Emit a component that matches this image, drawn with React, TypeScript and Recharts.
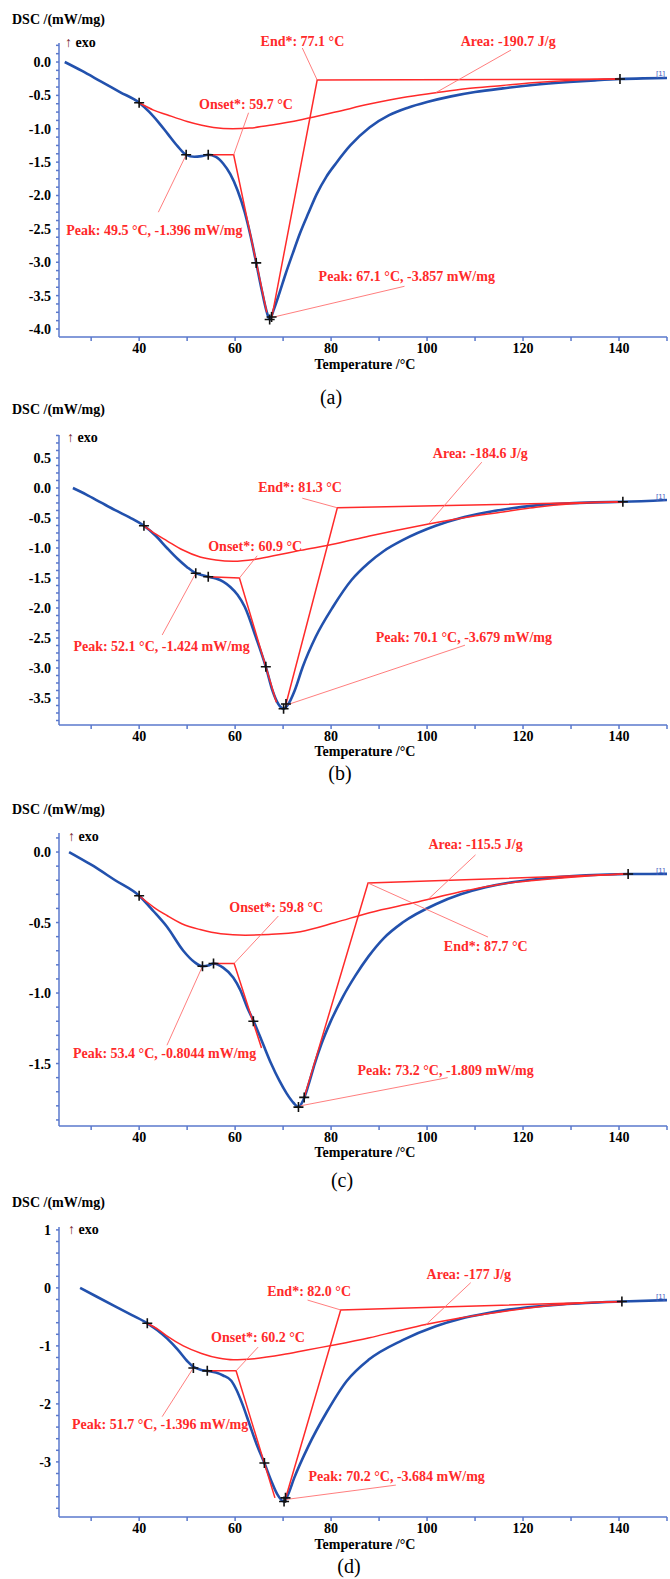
import React from "react";
import { ComposedChart, Line, Scatter, XAxis, YAxis, ReferenceLine, ReferenceDot } from "recharts";

type Pt = [number, number];
type Note = { text: string; at: Pt };

const SERIF = '"Liberation Serif", "Times New Roman", serif';
const RED = "#ff2a2a";
const LEADER = "#ff6f6f";
const BLUE = "#2251ad";
const AXIS = "#5a78cc";

// temperature axis
const tempTicks = [30, 40, 50, 60, 70, 80, 90, 100, 110, 120, 130, 140, 150];
const tempLabels = [40, 60, 80, 100, 120, 140];
const tempDomain: Pt = [23.3, 150];

// ---- (a)
const yMajorA = [0, -0.5, -1, -1.5, -2, -2.5, -3, -3.5, -4];
const dscA: Pt[] = [
  [24.5, 0], [28, -0.13], [32, -0.29], [36, -0.45], [40, -0.61], [42, -0.74], [44, -0.9], [46, -1.08],
  [48, -1.26], [49.8, -1.39], [51.5, -1.42], [53, -1.41], [54.4, -1.39], [56, -1.42], [57.5, -1.52],
  [59, -1.68], [60.5, -1.92], [62, -2.25], [63.2, -2.6], [64.4, -3.01], [65.5, -3.4], [66.5, -3.72],
  [67.2, -3.857], [68.1, -3.7], [69.2, -3.47], [70.5, -3.18], [72, -2.87], [73.5, -2.57], [75.3, -2.26],
  [77, -1.98], [79, -1.72], [81, -1.52], [84, -1.25], [88, -0.98], [92, -0.8], [96, -0.685],
  [100, -0.6], [105, -0.515], [110, -0.45], [115.8, -0.395], [122, -0.345], [129.6, -0.3], [135, -0.275],
  [140.2, -0.255], [145, -0.245], [150, -0.24],
];
const baseA: Pt[] = [
  [40, -0.61], [43, -0.72], [45.8, -0.79], [50, -0.89], [55.5, -0.98], [59.5, -1.0], [63, -0.99],
  [68, -0.94], [74, -0.86], [80.9, -0.75], [88, -0.63], [95, -0.53], [101.8, -0.46], [108, -0.4],
  [115.8, -0.35], [122, -0.31], [129.6, -0.275], [135, -0.26], [140.2, -0.255],
];
const onsetA: Pt[] = [[54.4, -1.39], [59.7, -1.39], [66.6, -3.75]];
const endA: Pt[] = [[67.6, -3.84], [77.1, -0.27], [140.2, -0.255]];
const marksA: Pt[] = [[40, -0.61], [49.8, -1.39], [54.4, -1.39], [64.4, -3.01], [67.2, -3.857], [67.6, -3.82], [140.2, -0.255]];
const notesA: Note[] = [
  { text: "End*: 77.1 °C", at: [65.3, 0.3] },
  { text: "Onset*: 59.7 °C", at: [52.5, -0.63] },
  { text: "Area: -190.7 J/g", at: [107, 0.3] },
  { text: "Peak: 49.5 °C, -1.396 mW/mg", at: [24.8, -2.52] },
  { text: "Peak: 67.1 °C, -3.857 mW/mg", at: [77.4, -3.22] },
];
const leadersA: Pt[][] = [
  [[74.0, 0.21], [77.1, -0.27]], [[62.8, -0.76], [59.7, -1.39]], [[117.5, 0.18], [101.8, -0.46]],
  [[44.0, -2.25], [49.8, -1.39]], [[95.3, -3.36], [67.5, -3.83]],
];
const tagA: Pt = [147.7, -0.165];

// ---- (b)
const yMajorB = [0.5, 0, -0.5, -1, -1.5, -2, -2.5, -3, -3.5];
const dscB: Pt[] = [
  [26.2, 0], [29, -0.11], [32, -0.24], [35, -0.37], [38, -0.49], [41, -0.63], [43.5, -0.8], [45.8, -1.0],
  [48, -1.18], [50, -1.32], [51.8, -1.42], [53, -1.45], [54.4, -1.48], [56, -1.51], [57.5, -1.56],
  [59, -1.65], [60.5, -1.78], [62, -1.98], [64.3, -2.48], [66.4, -2.98], [67.8, -3.38], [69, -3.6],
  [70.1, -3.679], [71.1, -3.6], [72.4, -3.38], [74.1, -2.98], [76.8, -2.48], [80.4, -1.98], [84.3, -1.53],
  [87.8, -1.25], [91, -1.05], [94.9, -0.87], [101.8, -0.63], [107, -0.5], [112.2, -0.41], [117, -0.345],
  [122.7, -0.29], [129.6, -0.255], [135, -0.24], [140.8, -0.23], [150, -0.2],
];
const baseB: Pt[] = [
  [41, -0.63], [43.5, -0.77], [45.8, -0.88], [49, -1.03], [52.7, -1.15], [56, -1.2], [59.6, -1.22],
  [64, -1.19], [68, -1.13], [73.6, -1.04], [80.9, -0.93], [88, -0.8], [94, -0.7], [100.3, -0.6],
  [108, -0.49], [115.8, -0.4], [122.7, -0.32], [129.6, -0.265], [135, -0.243], [140.8, -0.23],
];
const onsetB: Pt[] = [[54.4, -1.48], [60.9, -1.5], [68.6, -3.57]];
const endB: Pt[] = [[70.6, -3.6], [81.3, -0.33], [140.8, -0.23]];
const marksB: Pt[] = [[41, -0.63], [51.8, -1.42], [54.4, -1.48], [66.4, -2.98], [70.1, -3.679], [70.6, -3.6], [140.8, -0.23]];
const notesB: Note[] = [
  { text: "End*: 81.3 °C", at: [64.8, 0.0] },
  { text: "Onset*: 60.9 °C", at: [54.4, -0.98] },
  { text: "Area: -184.6 J/g", at: [101.2, 0.58] },
  { text: "Peak: 52.1 °C, -1.424 mW/mg", at: [26.3, -2.65] },
  { text: "Peak: 70.1 °C, -3.679 mW/mg", at: [89.3, -2.5] },
];
const leadersB: Pt[][] = [
  [[74.0, -0.17], [81.3, -0.33]], [[64.6, -1.13], [60.9, -1.5]], [[111.4, 0.43], [100.5, -0.58]],
  [[44.8, -2.45], [51.8, -1.42]], [[107.9, -2.62], [70.6, -3.62]],
];
const tagB: Pt = [147.7, -0.15];

// ---- (c)
const yMajorC = [0, -0.5, -1, -1.5];
const dscC: Pt[] = [
  [25.4, 0], [30, -0.09], [35, -0.2], [40, -0.31], [43, -0.42], [45.8, -0.53], [49.2, -0.7], [51.5, -0.78],
  [53.2, -0.81], [54.4, -0.805], [55.5, -0.79], [57.5, -0.82], [59.6, -0.89], [61.1, -0.98], [62.5, -1.1],
  [64, -1.21], [65.8, -1.36], [67.5, -1.5], [69.2, -1.62], [70.7, -1.71], [72.2, -1.78], [73.2, -1.809],
  [74.2, -1.76], [75.3, -1.65], [76.6, -1.5], [78, -1.36], [79.8, -1.21], [82.4, -1.03], [85, -0.88],
  [87.8, -0.74], [91, -0.61], [94.9, -0.5], [101.8, -0.37], [107, -0.3], [112.2, -0.25], [117, -0.218],
  [122.7, -0.193], [128, -0.176], [133.1, -0.165], [141.9, -0.156], [150, -0.155],
];
const baseC: Pt[] = [
  [40, -0.31], [43, -0.39], [45.8, -0.45], [49, -0.51], [52.7, -0.55], [57, -0.58], [62.1, -0.59],
  [67, -0.585], [73.6, -0.565], [80.9, -0.5], [88, -0.43], [97.2, -0.36], [108.7, -0.27], [115, -0.23],
  [122.7, -0.2], [130, -0.178], [135, -0.166], [141.9, -0.156],
];
const onsetC: Pt[] = [[55.5, -0.79], [59.8, -0.79], [65.5, -1.39]];
const endC: Pt[] = [[74.4, -1.74], [87.7, -0.22], [141.9, -0.156]];
const marksC: Pt[] = [[40, -0.31], [53.2, -0.81], [55.5, -0.79], [63.8, -1.2], [73.2, -1.809], [74.4, -1.74], [141.9, -0.156]];
const notesC: Note[] = [
  { text: "Onset*: 59.8 °C", at: [58.8, -0.39] },
  { text: "Area: -115.5 J/g", at: [100.3, 0.05] },
  { text: "End*: 87.7 °C", at: [103.5, -0.667] },
  { text: "Peak: 53.4 °C, -0.8044 mW/mg", at: [26.2, -1.426] },
  { text: "Peak: 73.2 °C, -1.809 mW/mg", at: [85.5, -1.546] },
];
const leadersC: Pt[][] = [
  [[69.0, -0.454], [59.8, -0.79]], [[110.1, -0.02], [100.3, -0.333]], [[112.7, -0.603], [87.7, -0.22]],
  [[45.8, -1.37], [53.2, -0.81]], [[104.3, -1.6], [73.6, -1.8]],
];
const tagC: Pt = [147.7, -0.128];

// ---- (d)
const yMajorD = [1, 0, -1, -2, -3];
const dscD: Pt[] = [
  [27.7, 0], [31, -0.144], [35, -0.318], [38.5, -0.47], [41.7, -0.61], [43.8, -0.73], [45.8, -0.87],
  [48, -1.06], [50, -1.26], [51.3, -1.36], [52.8, -1.41], [54.2, -1.43], [56, -1.46], [57.5, -1.51],
  [59.2, -1.6], [60.3, -1.76], [61.5, -2], [63, -2.35], [64.5, -2.7], [66.1, -3.02], [67.5, -3.32],
  [68.8, -3.56], [70.2, -3.684], [71.1, -3.55], [72.3, -3.28], [75.2, -2.74], [79.1, -2.14], [83.3, -1.6],
  [87.8, -1.24], [94.9, -0.9], [101.8, -0.66], [107, -0.53], [112.2, -0.44], [117, -0.375], [122.7, -0.322],
  [128, -0.285], [133.1, -0.26], [140.6, -0.235], [150, -0.21],
];
const baseD: Pt[] = [
  [41.7, -0.61], [44, -0.72], [46, -0.84], [49.2, -1.0], [53, -1.13], [56.5, -1.21], [59.6, -1.24],
  [64, -1.22], [70, -1.15], [75, -1.07], [80.9, -0.98], [88, -0.86], [94, -0.74], [99.7, -0.63],
  [106, -0.53], [112.2, -0.45], [120, -0.36], [126.2, -0.3], [133, -0.26], [140.6, -0.235],
];
const onsetD: Pt[] = [[54.2, -1.43], [60.2, -1.43], [68.3, -3.62]];
const endD: Pt[] = [[70.5, -3.63], [82.0, -0.38], [140.6, -0.235]];
const marksD: Pt[] = [[41.7, -0.61], [51.3, -1.38], [54.2, -1.43], [66.1, -3.02], [70.2, -3.684], [70.5, -3.62], [140.6, -0.235]];
const notesD: Note[] = [
  { text: "End*: 82.0 °C", at: [66.7, -0.07] },
  { text: "Onset*: 60.2 °C", at: [55, -0.86] },
  { text: "Area: -177 J/g", at: [99.9, 0.224] },
  { text: "Peak: 51.7 °C, -1.396 mW/mg", at: [26, -2.36] },
  { text: "Peak: 70.2 °C, -3.684 mW/mg", at: [75.3, -3.26] },
];
const leadersD: Pt[][] = [
  [[75.1, -0.21], [82, -0.38]], [[64.8, -1.02], [60.2, -1.43]], [[109.1, 0.09], [99.7, -0.64]],
  [[44.8, -2.22], [51.3, -1.38]], [[93.5, -3.4], [70.4, -3.65]],
];
const tagD: Pt = [147.7, -0.14];

const panels = [
  {
    key: "a", yDomain: [-4.12, 0.285] as Pt, yMajor: yMajorA, yStep: 0.125, digits: 1,
    dsc: dscA, base: baseA, onset: onsetA, end: endA, marks: marksA, notes: notesA, leaders: leadersA, tag: tagA,
    top: 43, bottom: 337, titleY: 20, exo: [65, 43], xTitleY: 365, cap: [331, 397],
  },
  {
    key: "b", yDomain: [-3.95, 0.883] as Pt, yMajor: yMajorB, yStep: 0.125, digits: 1,
    dsc: dscB, base: baseB, onset: onsetB, end: endB, marks: marksB, notes: notesB, leaders: leadersB, tag: tagB,
    top: 435, bottom: 725, titleY: 410, exo: [67, 438], xTitleY: 752, cap: [340, 773],
  },
  {
    key: "c", yDomain: [-1.943, 0.135] as Pt, yMajor: yMajorC, yStep: 0.1, digits: 1,
    dsc: dscC, base: baseC, onset: onsetC, end: endC, marks: marksC, notes: notesC, leaders: leadersC, tag: tagC,
    top: 833, bottom: 1126, titleY: 810, exo: [68, 837], xTitleY: 1153, cap: [342, 1180],
  },
  {
    key: "d", yDomain: [-3.95, 1.05] as Pt, yMajor: yMajorD, yStep: 0.2, digits: 0,
    dsc: dscD, base: baseD, onset: onsetD, end: endD, marks: marksD, notes: notesD, leaders: leadersD, tag: tagD,
    top: 1227, bottom: 1517, titleY: 1203, exo: [68, 1230], xTitleY: 1545, cap: [349, 1566],
  },
];

const toObj = (a: Pt[]) => a.map(([x, y]) => ({ x, y }));

function minorTicks([lo, hi]: Pt, step: number) {
  const out: number[] = [];
  for (let k = Math.ceil(lo / step - 1e-9); k * step <= hi + 1e-9; k++) {
    out.push(Math.round(k * step * 1e6) / 1e6);
  }
  return out;
}

const Cross = (s: any) => (
  <path
    d={`M${s.cx - 5},${s.cy}H${s.cx + 5}M${s.cx},${s.cy - 5}V${s.cy + 5}`}
    stroke="#111"
    strokeWidth={1.6}
    fill="none"
  />
);

function Txt({ x, y, size = 14, bold = true, center = false, children, color = "#000" }: any) {
  return (
    <div
      style={{
        position: "absolute",
        left: x,
        top: y,
        transform: center ? "translate(-50%, -50%)" : "translateY(-50%)",
        fontFamily: SERIF,
        fontSize: size,
        fontWeight: bold ? 700 : 400,
        lineHeight: 1,
        whiteSpace: "nowrap",
        color,
      }}
    >
      {children}
    </div>
  );
}

function Panel({ p }: { p: (typeof panels)[number] }) {
  const h = p.bottom - p.top + 42;
  const ticks = minorTicks(p.yDomain, p.yStep);
  const isMajor = (v: number) => p.yMajor.some((m) => Math.abs(m - v) < 1e-6);
  const lineCommon = { dataKey: "y", dot: false, isAnimationActive: false, activeDot: false } as const;
  return (
    <>
      <Txt x={12} y={p.titleY}>DSC /(mW/mg)</Txt>
      <Txt x={p.exo[0]} y={p.exo[1]}>
        <span style={{ color: "#7a2a2a", fontWeight: 400 }}>↑</span> exo
      </Txt>
      <div style={{ position: "absolute", left: 0, top: p.top - 10 }}>
        <ComposedChart width={670} height={h} margin={{ top: 10, right: 3, bottom: 2, left: 9 }}>
          <XAxis
            type="number"
            dataKey="x"
            domain={tempDomain}
            ticks={tempTicks}
            interval={0}
            allowDataOverflow
            height={30}
            stroke={AXIS}
            strokeWidth={1.5}
            tickSize={4}
            tickFormatter={(v: number) => (tempLabels.includes(v) ? String(v) : "")}
            tick={{ fill: "#000", fontSize: 14, fontWeight: 700, fontFamily: SERIF }}
          />
          <YAxis
            type="number"
            dataKey="y"
            domain={p.yDomain}
            ticks={ticks}
            interval={0}
            allowDataOverflow
            width={50}
            stroke={AXIS}
            strokeWidth={1.5}
            tickSize={3}
            tickMargin={5}
            tickFormatter={(v: number) => (isMajor(v) ? v.toFixed(p.digits) : "")}
            tick={{ fill: "#000", fontSize: 14, fontWeight: 700, fontFamily: SERIF }}
          />
          <Line data={toObj(p.dsc)} type="monotone" stroke={BLUE} strokeWidth={2.6} {...lineCommon} />
          <Line data={toObj(p.base)} type="monotone" stroke={RED} strokeWidth={1.5} {...lineCommon} />
          <Line data={toObj(p.onset)} type="linear" stroke={RED} strokeWidth={1.5} {...lineCommon} />
          <Line data={toObj(p.end)} type="linear" stroke={RED} strokeWidth={1.5} {...lineCommon} />
          {p.leaders.map((seg, i) => (
            <ReferenceLine
              key={"l" + i}
              segment={[{ x: seg[0][0], y: seg[0][1] }, { x: seg[1][0], y: seg[1][1] }]}
              stroke={LEADER}
              strokeWidth={0.9}
              ifOverflow="visible"
            />
          ))}
          <Scatter data={toObj(p.marks)} dataKey="y" shape={Cross} isAnimationActive={false} />
          {p.notes.map((n, i) => (
            <ReferenceDot
              key={"n" + i}
              x={n.at[0]}
              y={n.at[1]}
              r={1}
              ifOverflow="visible"
              shape={(s: any) => (
                <text
                  x={s.cx}
                  y={s.cy}
                  dominantBaseline="central"
                  fill={RED}
                  fontSize={14}
                  fontWeight={700}
                  fontFamily={SERIF}
                >
                  {n.text}
                </text>
              )}
            />
          ))}
          <ReferenceDot
            x={p.tag[0]}
            y={p.tag[1]}
            r={1}
            ifOverflow="visible"
            shape={(s: any) => (
              <text x={s.cx} y={s.cy} dominantBaseline="central" fill="#4b62c2" fontSize={8} fontFamily="Arial, sans-serif">
                [1]
              </text>
            )}
          />
        </ComposedChart>
      </div>
      <Txt x={365} y={p.xTitleY} center>
        Temperature /°C
      </Txt>
      <Txt x={p.cap[0]} y={p.cap[1]} size={20} bold={false} center>
        ({p.key})
      </Txt>
    </>
  );
}

export default function App() {
  return (
    <div style={{ position: "absolute", left: 0, top: 0, width: 670, height: 1579, background: "#fff", overflow: "hidden" }}>
      {panels.map((p) => (
        <Panel key={p.key} p={p} />
      ))}
    </div>
  );
}
